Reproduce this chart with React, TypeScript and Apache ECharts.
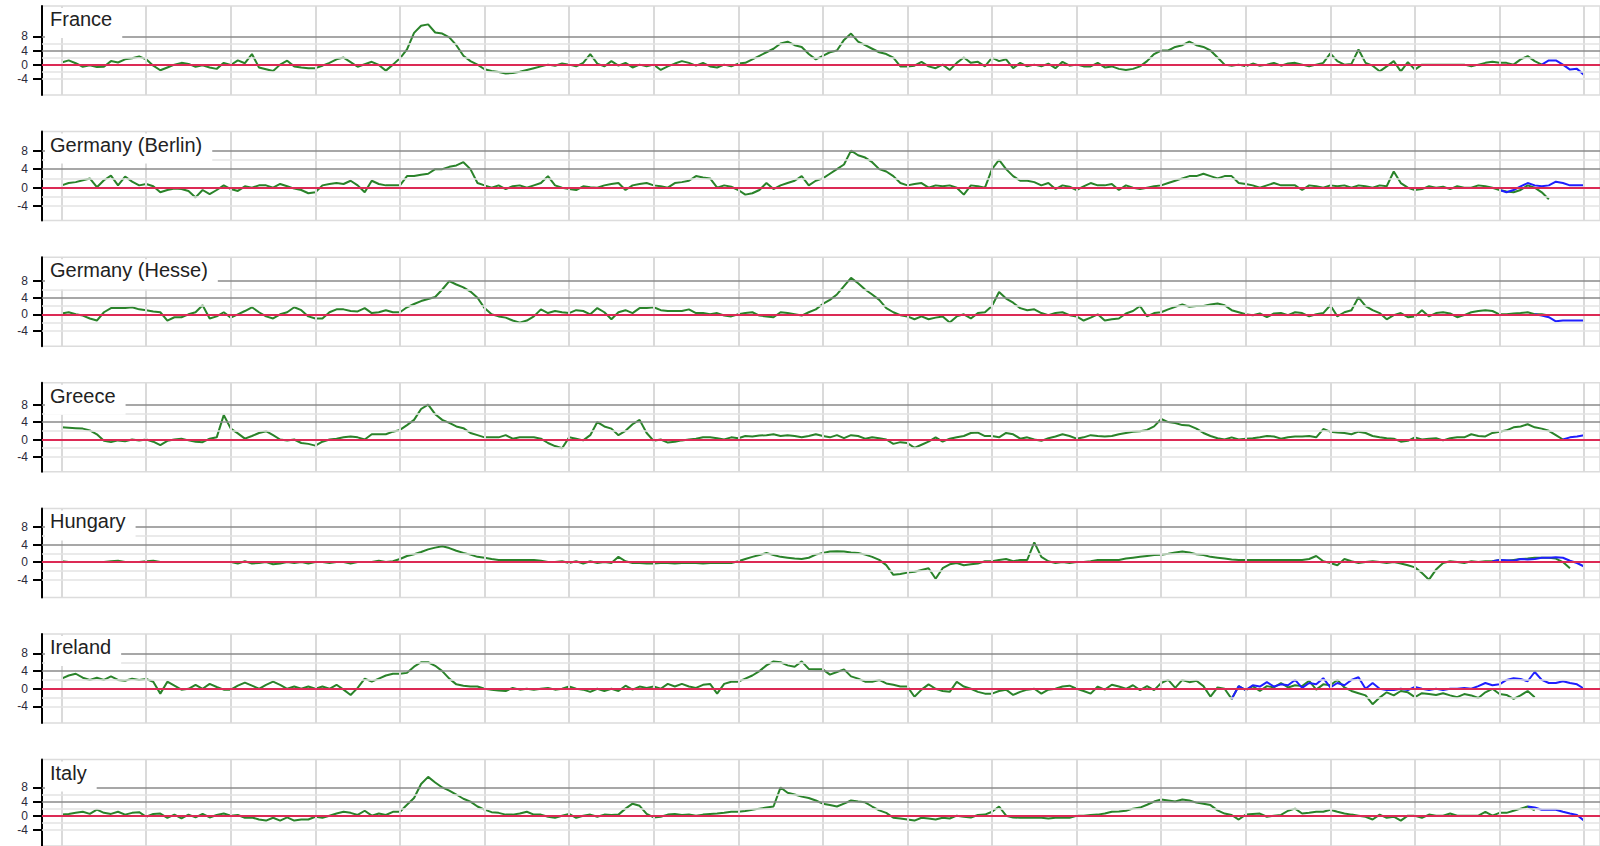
import React, { useEffect, useRef } from "react";
import * as echarts from "echarts";

// ---------- data (monthly values, index 0 = first vertical grid line) ----------
const PANEL_NAMES = ["France", "Germany (Berlin)", "Germany (Hesse)", "Greece", "Hungary", "Ireland", "Italy"];
const Y_TICKS = [-4, 0, 4, 8];
const YEAR_LINES = [0, 1, 2, 3, 4, 5, 6, 7, 8, 9, 10, 11, 12, 13, 14, 15, 16, 17, 18];

const FRANCE = [
  0.6, 1.2, 0.4, -0.6, -0.2, -0.7, -0.6, 1.0, 0.6, 1.5, 1.8, 2.3,
  1.5, -0.3, -1.6, -0.8, 0, 0.5, 0.2, -0.6, -0.2, -0.8, -1.2, 0.5,
  -0.1, 1.2, 0.4, 3, -0.8, -1.3, -1.8, 0, 1.1, -0.5, -0.8, -1,
  -1, -0.3, 0.5, 1.5, 2, 0.7, -0.6, 0.1, 0.8, -0.1, -1.7, 0,
  1.8, 4.3, 9, 11, 11.4, 9.1, 8.8, 7.7, 5.5, 2.5, 1, 0,
  -1.3, -1.8, -2.1, -2.5, -2.4, -2, -1.5, -1, -0.5, 0, -0.3, 0.3,
  0, -0.5, 0.5, 3, 0.3, -0.5, 1, -0.3, 0.5, -0.8, 0, -0.5,
  0, -1.5, -0.5, 0.3, 1, 0.5, -0.3, 0.5, -0.5, -0.8, 0, -0.5,
  0.3, 0.5, 1.5, 2.5, 3.5, 4.5, 6, 6.5, 5.5, 5, 3, 1.5,
  2.5, 3.5, 4, 7, 8.8, 6.5, 5.5, 4.5, 3.5, 3, 2, -0.5,
  -0.5, -0.3, 0.8, -0.5, -1, 0, -1.5, 0.5, 2, 0.5, 0.8, -0.5,
  2, 1, 1.5, -1, 0.5, -0.5, 0, -0.5, 0.3, -1, 0.8, -0.3,
  0, -0.5, -0.5, 0.5, -0.8, -0.5, -1.2, -1.5, -1.2, -0.5, 1, 3,
  4, 4, 5, 5.5, 6.5, 5.5, 5, 4, 2, 0, -0.3, 0,
  -0.5, 0.3, -0.3, 0, 0.5, -0.3, 0.3, 0.5, 0, -0.5, 0, 0.5,
  3.2, 1, 0, 0.2, 4.3, 0.5, -0.3, -1.9, -0.5, 1, -1.9, 0.7,
  -1.4, 0, 0, 0, 0, 0, 0, 0, -0.5, 0, 0.5, 0.8,
  0.5, 0.5, 0, 1.5, 2.4, 1, 0,
];
const FRANCE_BLUE_START = 210;
const FRANCE_BLUE = [0, 1.2, 1.2, 0, -1.4, -1.2, -2.9];

const GERMANY_BERLIN = [
  0.5, 1, 1.2, 1.6, 2, 0.1, 1.6, 2.6, 0.5, 2.4, 1.3, 0.5,
  0.8, 0.3, -1, -0.5, -0.2, -0.3, -0.7, -2.1, -0.5, -1.4, -0.5, 0.5,
  -0.3, -0.7, 0.3, 0, 0.5, 0.5, 0, 0.8, 0.3, -0.2, -0.5, -1.2,
  -1, 0.5, 0.8, 1, 0.8, 1.5, 0.5, -1, 1.5, 0.8, 0.5, 0.5,
  0.5, 2.5, 2.5, 2.8, 3, 4, 4, 4.5, 4.8, 5.5, 4, 1,
  0.5, 0, 0.5, -0.3, 0.3, 0.5, 0, 0.5, 1, 2.5, 0.5, 0,
  -0.3, -0.5, 0.3, 0.1, 0, 0.5, 0.8, 1, -0.5, 0.5, 0.8, 1,
  0.5, 0.3, 0, 1, 1.2, 1.5, 2.5, 2.2, 2, 0, 0.5, 0.2,
  -0.5, -1.5, -1.2, -0.5, 1, -0.3, 0.5, 1, 1.5, 2.5, 0.5, 1.5,
  2, 3, 4, 5, 8, 7, 6.5, 5.5, 4, 3.5, 2.5, 1,
  0.5, 0.8, 1, 0, 0.5, 0.3, 0.5, 0, -1.5, 0.5, 0.3, 0,
  4, 6, 4, 2.5, 1.5, 1.5, 1.2, 0.5, 1, -0.3, 0.5, 0.2,
  -0.5, 0.3, 1, 0.5, 0.5, 0.8, -0.5, 0.5, 0, -0.3, 0, 0.3,
  0.5, 1, 1.5, 2, 2.5, 2.5, 3, 2.5, 2, 2.5, 2.5, 1,
  0.8, 0.5, 0, 0.5, 1, 0.5, 0.5, 0.5, -0.5, 0.5, 0.3, 0,
  0.5, 0.3, 0.5, 0, 0.5, 0.3, 0, 0.5, 0.3, 3.5, 1, 0,
  -0.5, -0.3, 0.3, 0, 0.2, -0.3, 0.3, 0, 0, 0.5, 0.3, 0,
  -0.5, -0.8, -1, -0.5, 0.5, 0, -1, -2.5,
];
const GERMANY_BERLIN_BLUE_START = 204;
const GERMANY_BERLIN_BLUE = [-0.5, -1, -0.5, 0.3, 1, 0.5, 0.3, 0.5, 1.3, 1, 0.5, 0.5, 0.5];

const GERMANY_HESSE = [
  0.2, 0.5, 0, -0.3, -1, -1.5, 0.5, 1.5, 1.5, 1.5, 1.7, 1.2,
  1, 0.7, 0.5, -1.5, -0.7, -0.7, 0, 0.5, 2.2, -1, -0.5, 0.5,
  -0.8, 0, 0.8, 1.7, 0.5, -0.5, -1, 0, 0.5, 1.7, 1, -0.5,
  -1, -1, 0.5, 1.2, 1.2, 0.8, 0.7, 1.5, 0.3, 0.5, 1, 0.5,
  0.5, 1.7, 2.5, 3.2, 3.7, 4.2, 6, 8, 7.2, 6.5, 5.5, 4,
  1.5, 0, -0.5, -0.8, -1.5, -2, -1.5, -0.5, 1.2, 0.3, 0.8, 0.5,
  0.3, 1, 0.8, 0, 1.5, 0.5, -1.2, 0.5, 1, 0.3, 1.5, 1.5,
  1.7, 1, 0.8, 0.8, 0.8, 1.2, 0.3, 0.3, 0, 0.3, -0.3, -0.5,
  0, 0.3, 0.5, -0.3, -0.5, -0.7, 0.5, 0.3, 0, -0.3, 0.5, 1.2,
  2.5, 3.5, 4.8, 6.8, 8.8, 7.5, 6, 4.8, 3.5, 1.5, 0.5, -0.2,
  -0.5, -1.2, -0.5, -1.2, -0.8, -0.5, -2, -0.5, 0, -1, 0.3, 0.5,
  2, 5.4, 3.8, 2.8, 1.5, 1, 1.2, 0.3, -0.2, 0.3, 0.5, -0.2,
  -0.5, -1.5, -0.8, 0, -1.5, -1.2, -1, 0.2, 0.8, 2, -0.5, 0.3,
  0.5, 1.2, 1.8, 2.4, 1.8, 2, 2, 2.4, 2.6, 2.2, 1, 0.5,
  0, -0.2, 0.2, -0.7, 0.2, 0.3, -0.2, 0.5, 0.3, -0.5, 0, 0.3,
  2.2, -0.5, 0.5, 1, 4.1, 2, 1, 0.3, -1.2, -0.2, 0.3, -0.7,
  -0.5, 1, -0.5, 0.3, 0.5, 0.2, -0.7, -0.2, 0.5, 0.8, 1, 0.8,
  0, 0, 0.2, 0.3, 0.5, 0, 0, -0.3,
];
const GERMANY_HESSE_BLUE_START = 209;
const GERMANY_HESSE_BLUE = [0, -0.3, -0.7, -1.7, -1.5, -1.5, -1.5, -1.5];

const GREECE = [
  2.8, 2.7, 2.6, 2.5, 2.1, 1.2, -0.3, -0.6, -0.2, -0.4, 0, -0.2,
  0, -0.5, -1.3, -0.3, 0, 0.2, -0.2, -0.5, -0.6, 0.2, 0.5, 5.6,
  2.5, 1.4, 0.2, 0.8, 1.5, 1.9, 1, 0, -0.2, 0, -0.8, -1,
  -1.4, -0.5, 0, 0.2, 0.5, 0.7, 0.5, 0, 1.2, 1.2, 1.2, 1.8,
  2.2, 3.3, 4.5, 7, 8, 5.8, 4.5, 3.8, 3, 2.6, 1.5, 1,
  0.5, 0.5, 0.5, 1, 0.2, 0.5, 0.5, 0.5, 0.2, -0.8, -1.5, -2,
  0.5, 0.2, -0.2, 1, 4, 3, 2.5, 1, 2, 3.5, 4.5, 1.5,
  -0.3, 0, -0.7, -0.5, -0.2, 0, 0.2, 0.5, 0.5, 0.3, 0, 0.5,
  0.3, 0.8, 0.7, 0.9, 1, 1.2, 0.8, 1, 0.8, 0.5, 0.8, 1.2,
  0.8, 0.5, 1, 0.3, 1, 0.8, 0.2, 0.5, 0.3, 0, -1, -0.6,
  -0.8, -1.9, -1.2, -0.5, 0.5, -0.5, 0.2, 0.5, 0.8, 1.5, 1.6, 0.8,
  0.8, 0.5, 1.5, 1.2, 0.2, 0.5, 0, -0.3, 0.3, 0.7, 1.2, 0.8,
  0.2, 0.5, 1, 0.8, 0.7, 0.8, 1.2, 1.5, 1.8, 1.9, 2.2, 3,
  4.7, 4, 3.8, 3.3, 3.2, 2.5, 1.5, 0.8, 0.3, 0, 0.5, 0,
  0.2, 0.3, 0.5, 0.8, 0.7, 0.2, 0.5, 0.7, 0.7, 0.8, 0.5, 2.4,
  1.8, 1.6, 1.5, 1.2, 1.8, 1.5, 0.8, 0.5, 0.3, 0.2, -0.5, -0.3,
  0.5, 0, 0.2, 0.3, -0.2, 0.3, 0.5, 0.5, 1.2, 0.8, 0.7, 1.5,
  1.8, 2.1, 2.8, 3, 3.5, 2.8, 2.5, 2, 1, 0,
];
const GREECE_BLUE_START = 213;
const GREECE_BLUE = [0, 0.5, 0.7, 1];

const HUNGARY = [
  0.2, 0, 0, 0, 0, 0, 0, 0.2, 0.3, 0, 0, 0,
  0.2, 0.3, 0, 0, 0, 0, 0, 0, 0, 0, 0, 0,
  0, -0.3, 0.2, -0.3, -0.2, 0, -0.5, -0.3, 0, -0.2, 0, -0.3,
  0, 0, -0.2, 0, 0, -0.3, 0, 0, 0, 0.3, 0, 0.2,
  0.7, 1.4, 1.8, 2.3, 2.9, 3.3, 3.6, 3.2, 2.6, 2.1, 1.7, 1.2,
  1, 0.7, 0.5, 0.5, 0.5, 0.5, 0.5, 0.5, 0.3, 0, 0, 0.2,
  -0.2, 0.2, -0.3, 0.2, -0.2, 0, -0.2, 1.2, 0.2, -0.2, -0.2, -0.3,
  -0.3, -0.2, -0.2, -0.3, -0.2, -0.2, -0.2, -0.3, -0.2, -0.2, -0.2, -0.2,
  0.2, 0.7, 1.2, 1.6, 2.1, 1.6, 1.2, 1, 0.8, 0.7, 1, 1.7,
  2.1, 2.4, 2.5, 2.4, 2.2, 2.1, 1.7, 1.2, 0.5, -0.7, -2.9, -2.7,
  -2.4, -2.2, -1.8, -1.4, -3.8, -1.4, -0.5, -0.2, -0.7, -0.5, -0.3, 0.2,
  0.2, 0.5, 0.7, 0.2, 0.5, 0.5, 4.5, 1.2, 0.2, -0.2, 0, -0.2,
  0, 0, 0.2, 0.5, 0.5, 0.5, 0.5, 0.8, 1, 1.2, 1.4, 1.6,
  1.7, 1.9, 2.2, 2.4, 2.2, 1.8, 1.6, 1.2, 1, 0.8, 0.6, 0.5,
  0.5, 0.5, 0.5, 0.5, 0.5, 0.5, 0.5, 0.5, 0.5, 0.7, 1.4, 0.2,
  -0.2, -0.7, 0.7, 0.2, -0.2, 0, 0.2, 0, -0.2, 0, -0.3, -0.7,
  -1.2, -2.5, -4, -1.7, -0.2, 0.2, 0, -0.2, 0.2, 0, 0.2, 0.2,
  0.5, 0.3, 0.5, 0.7, 0.8, 1, 1, 1, 0.8, 0, -1.4,
];
const HUNGARY_BLUE_START = 203;
const HUNGARY_BLUE = [0.2, 0.5, 0.4, 0.3, 0.7, 0.6, 0.7, 1, 1, 1.1, 1, 0.3, -0.2, -1];

const IRELAND = [
  2.3, 3, 3.4, 2.5, 2, 2.5, 2, 2.8, 2, 1.8, 2.3, 2,
  2.2, 1.6, -1.1, 1.6, 0.7, -0.2, 0, 0.9, 0, 1.1, 0.4, -0.2,
  -0.2, 0.7, 1.4, 0.7, 0, 0.9, 1.6, 0.9, 0, 0.5, 0, 0.5,
  0, 0.5, 0, 0.9, -0.2, -1.4, 0.2, 2.3, 1.6, 2.3, 3, 3.4,
  3.4, 3.6, 5, 6, 6, 5.2, 4, 2.3, 1, 0.7, 0.5, 0.5,
  0, -0.2, -0.4, -0.5, 0.2, -0.2, 0, -0.2, 0, 0.2, -0.2, 0,
  0.5, 0, -0.2, -0.7, 0, -0.5, 0, -0.5, 0.7, -0.2, 0.5, 0.2,
  0.5, 0, 1.1, 0.5, 1.1, 0.5, 0.2, 0.9, 1.1, -1.1, 1.1, 1.6,
  1.6, 2.3, 3, 4, 5.3, 6.2, 6, 5.3, 5, 6.2, 4.5, 4.4,
  4.4, 3.2, 3.8, 4.4, 2.8, 2.3, 1.6, 1.6, 2, 1.2, 0.9, 0.5,
  0.5, -1.8, -0.2, 1, 0, -0.5, -0.7, 1.6, 0.5, 0, -0.7, -1.1,
  -1.1, -0.5, -0.2, -1.4, -0.7, -0.2, 0, -1.1, -0.2, 0, 0.5, 0.7,
  0, -0.5, -1.1, 0.5, -0.2, 0.9, 0.5, 0, 0.8, -0.3, 0.6, -0.3,
  1.3, 2, 0.2, 2, 1.5, 1.8, 0.6, -1.8, 0.3, 0, -2.3, 0.6,
  -0.3, 0.6, -0.5, 0.6, 0.3, 1.3, 0.3, 0.8, 0.6, 1.8, -0.2, 1,
  0.8, 2, 0.3, -0.5, -1, -1.5, -3.5, -2, -0.8, -1.5, -0.5, -0.8,
  -1.9, -1, -1.2, -1.4, -1, -1.5, -1.9, -1.2, -1.5, -2.1, -0.8, 0,
  -1.2, -1.4, -2.3, -1.5, -0.5, -1.9,
];
const IRELAND_BLUE_START = 166;
const IRELAND_BLUE = [
  -2.3, 0.6, -0.3, 0.8, 0.5, 1.5, 0.5, 1, 0.8, 2, 0.2, 1.3, 1, 2.4,
  0.3, 1.3, 0.8, 2, 2.6, 0, 1.3, 0, -0.3, -0.3, 0, -0.3,
  0.4, 0, -0.3, 0, -0.3, 0, 0, 0.2, 0, 0.6, 1.3, 0.8,
  1, 2, 2.4, 2.2, 1.7, 3.8, 2, 1.3, 1.3, 1.7, 1.3, 1, 0,
];

const ITALY = [
  0.3, 0.5, 0.8, 1.1, 0.5, 1.7, 0.8, 0.5, 1.1, 0.3, 0.8, 1,
  -0.3, 0.5, 0.6, -0.6, 0.3, -0.8, 0.3, -0.5, 0.5, -0.5, 0.2, 0.6,
  0, 0.2, -0.6, -0.5, -1.1, -1.4, -0.6, -1.4, -0.5, -1.4, -1.1, -1.1,
  -0.3, -0.6, 0, 0.6, 1.1, 0.8, 0.2, 1.4, 0, 0.6, 0.2, 1.1,
  1.1, 3.1, 5, 9, 11, 9.4, 8, 7.1, 6, 4.8, 4, 2.6,
  1.7, 1, 0.8, 0.3, 0.3, 0.6, 1.1, 0.3, 0.3, -0.3, -0.6, 0,
  0.5, -0.6, 0, 0.3, -0.3, 0.3, 0.2, 0.3, 2, 3.4, 2.8, 0.5,
  -0.5, -0.3, 0.3, 0.5, 0.2, 0.3, 0, 0.3, 0.5, 0.6, 0.8, 1.1,
  1.1, 1.3, 1.7, 2, 2.3, 2.6, 8, 6.5, 6, 5.4, 5, 4.3,
  3.4, 3, 2.6, 3.4, 4.3, 4, 3.8, 2.6, 1.5, 0.8, -0.6, -0.8,
  -1.1, -1.4, -0.6, -0.8, -1.1, -0.6, -0.8, 0, -0.3, -0.5, 0.2, 0.3,
  1.1, 2.6, 0, -0.5, -0.6, -0.6, -0.6, -0.6, -0.8, -0.6, -0.6, -0.6,
  0, 0, 0.2, 0.3, 0.6, 1.1, 1.2, 1.4, 2, 2.3, 3.1, 4,
  4.6, 4.3, 4, 4.6, 4.3, 3.7, 3.4, 3, 1.5, 0.6, 0.2, -1.1,
  0.3, 0.5, 0.6, -0.3, 0, 0.2, 1.4, 2, 0.6, 0.8, 1.1, 1.1,
  1.7, 1.1, 0.6, 0.3, 0, -0.3, -1.1, 0.3, -0.6, -0.3, -1.4, 0,
  0, -0.6, 0.3, 0, 0, 0.6, 0, 0, 0, 0, 1.1, 0,
  0.8, 0.8, 1.4, 2, 2.6, 1.5,
];
const ITALY_BLUE_START = 208;
const ITALY_BLUE = [2.6, 2.3, 1.7, 1.7, 1.7, 1.1, 0.6, 0.2, -1.4];

const GREEN_SERIES = [FRANCE, GERMANY_BERLIN, GERMANY_HESSE, GREECE, HUNGARY, IRELAND, ITALY];
const BLUE_SERIES = [FRANCE_BLUE, GERMANY_BERLIN_BLUE, GERMANY_HESSE_BLUE, GREECE_BLUE, HUNGARY_BLUE, IRELAND_BLUE, ITALY_BLUE];
const BLUE_STARTS = [FRANCE_BLUE_START, GERMANY_BERLIN_BLUE_START, GERMANY_HESSE_BLUE_START, GREECE_BLUE_START, HUNGARY_BLUE_START, IRELAND_BLUE_START, ITALY_BLUE_START];
const Y_MIN = [-8.6, -7.1, -7.7, -7.4, -8.05, -7.75, -8.6];
const Y_MAX = [16.6, 12.1, 13.8, 13, 12.25, 12.4, 15.9];

// ---------- layout / style ----------
const FONT = "'Liberation Sans', Arial, sans-serif";
const PANEL_TOP = 6;
const PANEL_STEP = 125.6;
const PANEL_H = 89;
const GRID_LEFT = 42;
const GRID_RIGHT = -5;
const YEAR_PX = 84.85;
const X_MIN = -(61.7 - GRID_LEFT) / YEAR_PX;
const X_MAX = X_MIN + (1600 - GRID_LEFT - GRID_RIGHT) / YEAR_PX;

function buildOption() {
  const grid: any[] = [];
  const xAxis: any[] = [];
  const yAxis: any[] = [];
  const series: any[] = [];
  const title: any[] = [];

  PANEL_NAMES.forEach((name, i) => {
    const top = Math.round((PANEL_TOP + PANEL_STEP * i) * 10) / 10;
    grid.push({
      left: GRID_LEFT,
      right: GRID_RIGHT,
      top,
      height: PANEL_H,
      show: true,
      borderColor: "#dcdcdc",
      borderWidth: 1.5,
      backgroundColor: "transparent",
    });
    xAxis.push({ gridIndex: i, type: "value", min: X_MIN, max: X_MAX, show: false });
    yAxis.push({
      gridIndex: i,
      type: "value",
      min: Y_MIN[i],
      max: Y_MAX[i],
      axisLine: { show: true, onZero: false, lineStyle: { color: "#000", width: 2 } },
      axisTick: { show: true, length: 9, lineStyle: { color: "#000", width: 2 }, customValues: Y_TICKS },
      axisLabel: { show: true, customValues: Y_TICKS, fontSize: 12, color: "#2a2a3a", margin: 14, fontFamily: FONT },
      splitLine: { show: false },
    });

    const lines: any[] = [];
    YEAR_LINES.forEach((x) => lines.push({ xAxis: x, lineStyle: { color: "#dadada", width: 2, type: "solid" } }));
    [-4, -2, 2, 6].forEach((v) => lines.push({ yAxis: v, lineStyle: { color: "#e3e3e3", width: 1.5, type: "solid" } }));
    [4, 8].forEach((v) => lines.push({ yAxis: v, lineStyle: { color: "#8a8a8a", width: 1.5, type: "solid" } }));
    lines.push({ yAxis: 0, lineStyle: { color: "#dc2a55", width: 2, type: "solid" } });

    series.push({
      type: "line",
      xAxisIndex: i,
      yAxisIndex: i,
      data: [],
      z: 1,
      silent: true,
      markLine: { silent: true, symbol: "none", animation: false, label: { show: false }, data: lines },
    });

    series.push({
      type: "line",
      xAxisIndex: i,
      yAxisIndex: i,
      z: 3,
      symbol: "none",
      showSymbol: false,
      lineStyle: { color: "#2a832a", width: 2 },
      data: GREEN_SERIES[i].map((v, k) => [k / 12, v]),
    });
    series.push({
      type: "line",
      xAxisIndex: i,
      yAxisIndex: i,
      z: 4,
      symbol: "none",
      showSymbol: false,
      lineStyle: { color: "#1f1fff", width: 2 },
      data: BLUE_SERIES[i].map((v, k) => [(BLUE_STARTS[i] + k) / 12, v]),
    });

    title.push({
      text: name,
      left: 45,
      top: top + 2,
      padding: [1, 10, 9, 5],
      backgroundColor: "#ffffff",
      textStyle: { fontSize: 20, fontWeight: "normal", color: "#222", fontFamily: FONT },
    });
  });

  return {
    animation: false,
    backgroundColor: "#ffffff",
    textStyle: { fontFamily: FONT },
    title,
    grid,
    xAxis,
    yAxis,
    series,
  };
}

export default function App() {
  const ref = useRef<HTMLDivElement>(null);
  useEffect(() => {
    if (!ref.current) return;
    const chart = echarts.init(ref.current, null, { renderer: "svg" });
    chart.setOption(buildOption() as any);
    return () => chart.dispose();
  }, []);
  return (
    <div
      ref={ref}
      style={{ position: "absolute", left: 0, top: 0, width: 1600, height: 846, background: "#fff" }}
    />
  );
}
